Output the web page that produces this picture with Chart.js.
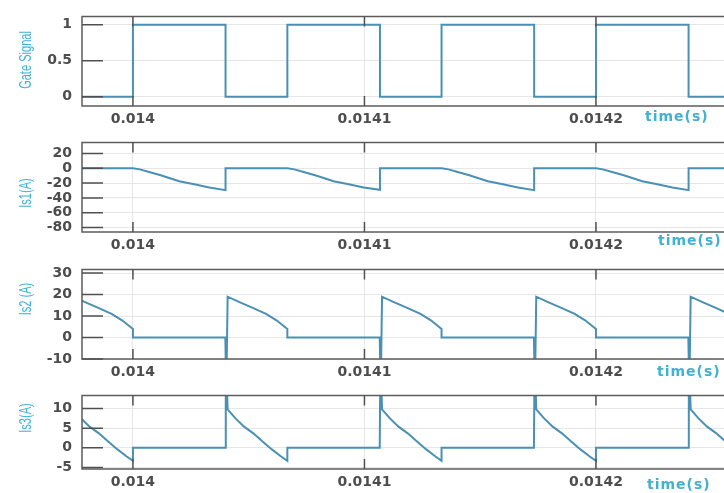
<!DOCTYPE html>
<html>
<head>
<meta charset="utf-8">
<script src="https://cdn.jsdelivr.net/npm/chart.js@4.4.1/dist/chart.umd.min.js"></script>
<style>
  html, body { margin: 0; padding: 0; background: #fff; overflow: hidden; }
  body { width: 724px; height: 493px; position: relative; }
  .panel { position: absolute; left: 0; width: 724px; }
</style>
</head>
<body>
<div class="panel" style="top:-2px"><canvas id="c1" width="724" height="138"></canvas></div>
<div class="panel" style="top:124px"><canvas id="c2" width="724" height="138"></canvas></div>
<div class="panel" style="top:251px"><canvas id="c3" width="724" height="138"></canvas></div>
<div class="panel" style="top:377px"><canvas id="c4" width="724" height="122"></canvas></div>
<script>
// x axis (time, s)
const xTickVals = [0.014, 0.0141, 0.0142];
const xTickLabels = ['0.014', '0.0141', '0.0142'];
const xMin = 0.0139780;
const xMax = 0.0142553;

// gate signal
const gateT = [0.0139733, 0.0140000, 0.0140000, 0.0140400, 0.0140400, 0.0140667, 0.0140667, 0.0141067, 0.0141067,
  0.0141333, 0.0141333, 0.0141733, 0.0141733, 0.0142000, 0.0142000, 0.0142400, 0.0142400, 0.0142600];
const gateV = [0, 0, 1, 1, 0, 0, 1, 1, 0, 0, 1, 1, 0, 0, 1, 1, 0, 0];

// Is1 (A)
const is1T = [0.0139700, 0.0140000,
  0.0140030, 0.0140070, 0.0140120, 0.0140160, 0.0140200, 0.0140270, 0.0140330, 0.0140400, 0.0140400,
  0.0140667, 0.0140697, 0.0140737, 0.0140787, 0.0140827, 0.0140867, 0.0140937, 0.0140997, 0.0141067, 0.0141067,
  0.0141333, 0.0141363, 0.0141403, 0.0141453, 0.0141493, 0.0141533, 0.0141603, 0.0141663, 0.0141733, 0.0141733,
  0.0142000, 0.0142030, 0.0142070, 0.0142120, 0.0142160, 0.0142200, 0.0142270, 0.0142330, 0.0142400, 0.0142400,
  0.0142600];
const is1V = [0, 0,
  -1.5, -5, -9.5, -13.5, -17.5, -22, -26, -29.5, 0,
  0, -1.5, -5, -9.5, -13.5, -17.5, -22, -26, -29, 0,
  0, -1.5, -5, -9.5, -13.5, -17.5, -22, -26, -29.5, 0,
  0, -1.5, -5, -9.5, -13.5, -17.5, -22, -26, -29.5, 0,
  0];

// Is2 (A)
const is2T = [0.0139742, 0.0139793, 0.0139853, 0.0139908, 0.0139953, 0.0140000, 0.0140000, 0.0140399,
  0.0140401, 0.0140403, 0.0140405, 0.0140409, 0.0140460, 0.0140520, 0.0140575, 0.0140620, 0.0140667, 0.0140667, 0.0141066,
  0.0141068, 0.0141070, 0.0141072, 0.0141076, 0.0141127, 0.0141187, 0.0141242, 0.0141287, 0.0141333, 0.0141333, 0.0141732,
  0.0141734, 0.0141736, 0.0141738, 0.0141742, 0.0141793, 0.0141853, 0.0141908, 0.0141953, 0.0142000, 0.0142000, 0.0142399,
  0.0142401, 0.0142403, 0.0142405, 0.0142409, 0.0142460, 0.0142520, 0.0142575, 0.0142620];
const is2V = [19, 16.5, 13.7, 11, 8, 4, 0, 0,
  -12, 0, -12, 19, 16.5, 13.7, 11, 8, 4, 0, 0,
  -12, 0, -12, 19, 16.5, 13.7, 11, 8, 4, 0, 0,
  -12, 0, -12, 19, 16.5, 13.7, 11, 8, 4, 0, 0,
  -12, 0, -12, 19, 16.5, 13.7, 11, 8];

// Is3 (A)
const is3T = [0.0139741, 0.0139776, 0.0139813, 0.0139853, 0.0139893, 0.0139933, 0.0139973, 0.0140000, 0.0140000, 0.0140399,
  0.0140401, 0.0140404, 0.0140406, 0.0140409, 0.0140443, 0.0140480, 0.0140520, 0.0140560, 0.0140600, 0.0140640, 0.0140667, 0.0140667, 0.0141066,
  0.0141068, 0.0141071, 0.0141073, 0.0141076, 0.0141110, 0.0141147, 0.0141187, 0.0141227, 0.0141267, 0.0141307, 0.0141333, 0.0141333, 0.0141732,
  0.0141734, 0.0141737, 0.0141739, 0.0141742, 0.0141776, 0.0141813, 0.0141853, 0.0141893, 0.0141933, 0.0141973, 0.0142000, 0.0142000, 0.0142399,
  0.0142401, 0.0142404, 0.0142406, 0.0142409, 0.0142443, 0.0142480, 0.0142520, 0.0142560];
const is3V = [9.8, 7.5, 5.4, 3.7, 1.6, -0.4, -2.2, -3.3, 0, 0,
  16, 12, 16, 9.8, 7.5, 5.4, 3.7, 1.6, -0.4, -2.2, -3.3, 0, 0,
  16, 12, 16, 9.8, 7.5, 5.4, 3.7, 1.6, -0.4, -2.2, -3.3, 0, 0,
  16, 12, 16, 9.8, 7.5, 5.4, 3.7, 1.6, -0.4, -2.2, -3.3, 0, 0,
  16, 12, 16, 9.8, 7.5, 5.4, 3.7, 1.6];

const LINE = '#4a90b4';
const TEAL = '#42b1d1';

// frame, inside tick marks, rotated y title and the "time(s)" note
const framePlugin = {
  id: 'frame',
  afterDraw(chart, args, opts) {
    const { ctx, chartArea: a, scales: { x, y } } = chart;
    ctx.save();
    ctx.strokeStyle = '#5c5c5c';
    ctx.lineWidth = 1.5;
    ctx.beginPath();
    ctx.moveTo(a.right + 2, a.top);
    ctx.lineTo(a.left, a.top);
    ctx.lineTo(a.left, a.bottom);
    ctx.lineTo(a.right + 2, a.bottom);
    ctx.stroke();

    ctx.strokeStyle = '#505050';
    ctx.beginPath();
    y.ticks.forEach(t => {
      const py = y.getPixelForValue(t.value);
      ctx.moveTo(a.left, py);
      ctx.lineTo(a.left + 21, py);
    });
    x.ticks.forEach(t => {
      const px = x.getPixelForValue(t.value);
      ctx.moveTo(px, a.top);
      ctx.lineTo(px, a.top + 10);
      ctx.moveTo(px, a.bottom);
      ctx.lineTo(px, a.bottom - 10);
    });
    ctx.stroke();

    // narrow y title: squeeze the text along its own direction
    ctx.fillStyle = TEAL;
    ctx.font = '17px "Liberation Sans", "DejaVu Sans", sans-serif';
    ctx.textAlign = 'center';
    ctx.textBaseline = 'middle';
    ctx.save();
    ctx.translate(26, opts.titleY);
    ctx.rotate(-Math.PI / 2);
    ctx.scale(0.65, 1);
    ctx.fillText(opts.title, 0, 0);
    ctx.restore();

    ctx.font = '600 14px "DejaVu Sans", sans-serif';
    ctx.letterSpacing = '1px';
    ctx.textAlign = 'left';
    ctx.fillText('time(s)', opts.timeX, opts.timeY);
    ctx.restore();
  }
};

function makePanel(id, times, values, yMin, yMax, yTicks, yLabels, frameOpts) {
  const pts = times.map((t, i) => ({ x: t, y: values[i] }));
  return new Chart(document.getElementById(id), {
    type: 'line',
    data: {
      datasets: [{
        data: pts,
        borderColor: LINE,
        borderWidth: 2,
        pointRadius: 0,
        tension: 0,
        fill: false
      }]
    },
    options: {
      responsive: false,
      animation: false,
      layout: { padding: { top: 10, right: 0, left: 0, bottom: 0 } },
      plugins: {
        legend: { display: false },
        tooltip: { enabled: false },
        frame: frameOpts
      },
      scales: {
        x: {
          type: 'linear',
          min: xMin,
          max: xMax,
          afterBuildTicks: s => { s.ticks = xTickVals.map(v => ({ value: v })); },
          afterFit: s => { s.height = 30; },
          grid: { color: '#e6e6e6', lineWidth: 1, drawTicks: false },
          border: { display: false },
          ticks: {
            autoSkip: false,
            maxRotation: 0,
            padding: 5,
            color: '#4d4d4d',
            font: { family: '"DejaVu Sans", sans-serif', size: 14, weight: 'bold' },
            callback: (v, i) => xTickLabels[i]
          }
        },
        y: {
          min: yMin,
          max: yMax,
          afterBuildTicks: s => { s.ticks = yTicks.map(v => ({ value: v })); },
          afterFit: s => { s.width = 82; },
          grid: { color: '#e6e6e6', lineWidth: 1, drawTicks: false },
          border: { display: false },
          ticks: {
            autoSkip: false,
            padding: 10,
            color: '#4d4d4d',
            font: { family: '"DejaVu Sans", sans-serif', size: 14, weight: 'bold' },
            callback: (v, i) => yLabels[i]
          }
        }
      }
    },
    plugins: [framePlugin]
  });
}

makePanel('c1', gateT, gateV, -0.127, 1.114, [0, 0.5, 1], ['0', '0.5', '1'],
  { title: 'Gate Signal', titleY: 62, timeX: 645, timeY: 119 });
makePanel('c2', is1T, is1V, -86, 34.9, [-80, -60, -40, -20, 0, 20], ['-80', '-60', '-40', '-20', '0', '20'],
  { title: 'Is1(A)', titleY: 69, timeX: 658, timeY: 117 });
makePanel('c3', is2T, is2V, -10, 31.7, [-10, 0, 10, 20, 30], ['-10', '0', '10', '20', '30'],
  { title: 'Is2 (A)', titleY: 48, timeX: 657, timeY: 121 });
makePanel('c4', is3T, is3V, -5.39, 13.36, [-5, 0, 5, 10], ['-5', '0', '5', '10'],
  { title: 'Is3(A)', titleY: 41, timeX: 647, timeY: 108 });
</script>
</body>
</html>
